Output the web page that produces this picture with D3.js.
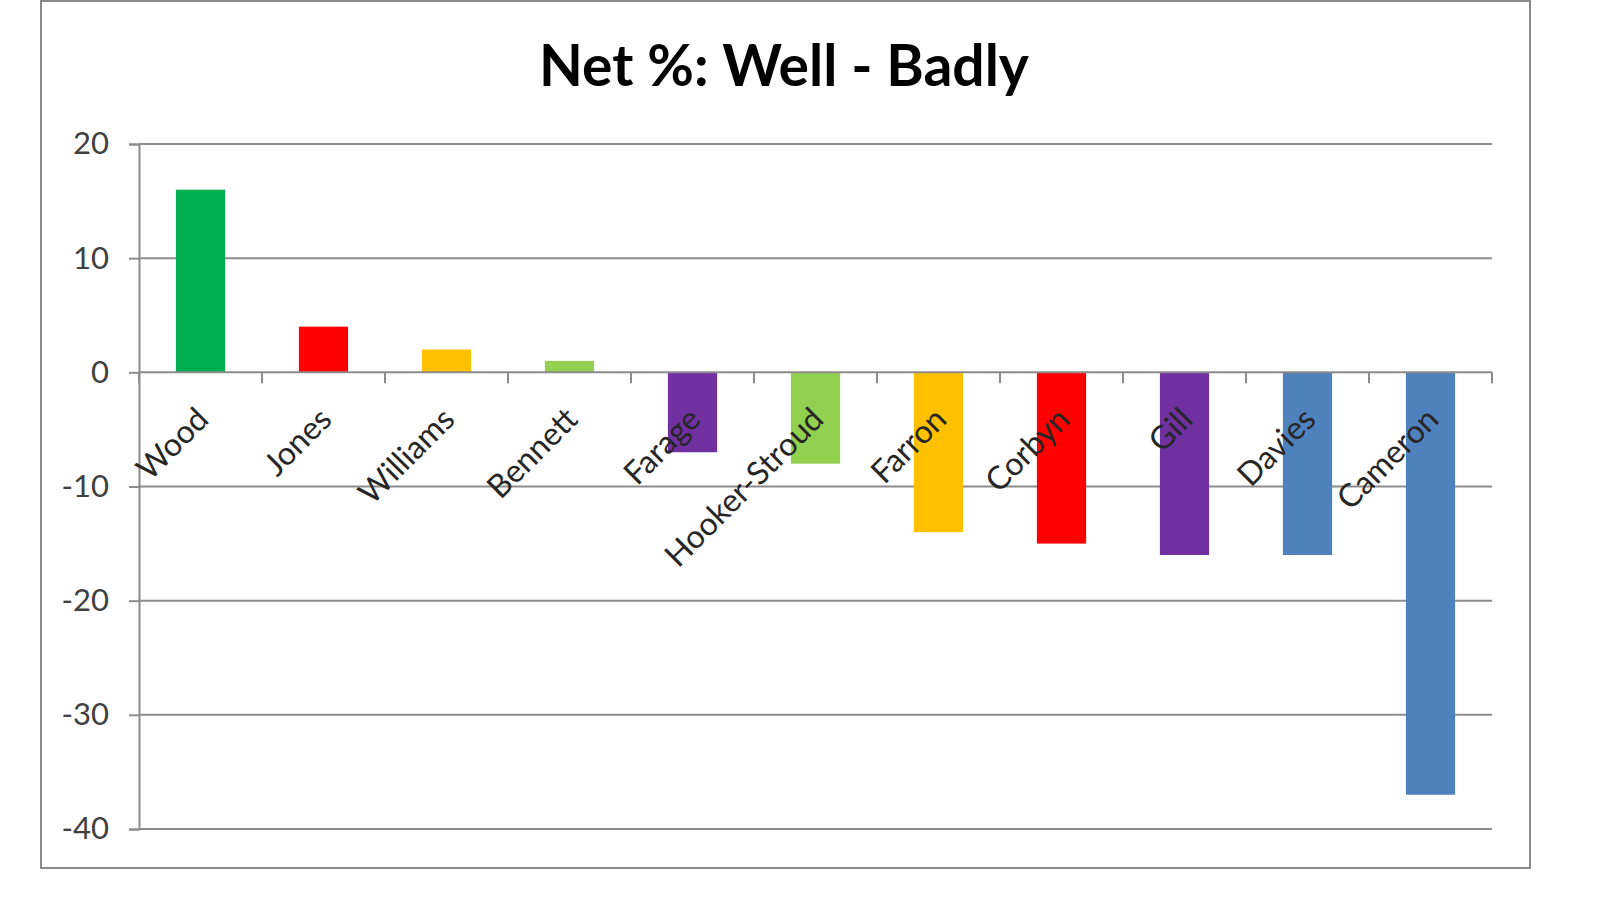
<!DOCTYPE html>
<html>
<head>
<meta charset="utf-8">
<script src="https://cdn.jsdelivr.net/npm/d3@7/dist/d3.min.js"></script>
<style>
  html, body { margin: 0; padding: 0; background: #fff; }
  svg { display: block; }
  text { font-family: "Lato", "Open Sans", "DejaVu Sans", sans-serif; }
</style>
</head>
<body>
<svg id="chart" width="1600" height="898"></svg>
<script>
const title = "Net %: Well - Badly";
const categories = ["Wood","Jones","Williams","Bennett","Farage","Hooker-Stroud","Farron","Corbyn","Gill","Davies","Cameron"];
const values = [16, 4, 2, 1, -7, -8, -14, -15, -16, -16, -37];
const barColors = ["#00B050","#FF0000","#FFC000","#92D050","#7030A0","#92D050","#FFC000","#FF0000","#7030A0","#4F81BD","#4F81BD"];
const yTicks = [20, 10, 0, -10, -20, -30, -40];

const svg = d3.select("#chart");
const plot = { left: 139, right: 1492, top: 144, bottom: 829 };
const gridColor = "#8c8c8c";

// chart border
svg.append("rect")
  .attr("x", 41).attr("y", 1).attr("width", 1530 - 41).attr("height", 868 - 1)
  .attr("fill", "#fff").attr("stroke", "#8a8a8a").attr("stroke-width", 2);

const x = d3.scaleBand().domain(categories).range([plot.left, plot.right])
  .paddingInner(0.6).paddingOuter(0.3);
const y = d3.scaleLinear().domain([-40, 20]).range([plot.bottom, plot.top]);

// y axis
const yAxis = d3.axisLeft(y).tickValues(yTicks).tickSize(10).tickPadding(20)
  .tickFormat(d => String(d));
const gy = svg.append("g").attr("transform", `translate(${plot.left},0)`).call(yAxis);
gy.select(".domain").attr("stroke", gridColor).attr("stroke-width", 2);
gy.selectAll(".tick line").attr("stroke", gridColor).attr("stroke-width", 2);
gy.selectAll(".tick text").attr("fill", "#404040").attr("font-size", 31).attr("font-family", "Lato, sans-serif");

// gridlines
const grid = svg.append("g");
grid.selectAll("line").data(yTicks.filter(d => d !== 0)).join("line")
  .attr("x1", plot.left).attr("x2", plot.right)
  .attr("y1", d => y(d)).attr("y2", d => y(d))
  .attr("stroke", gridColor).attr("stroke-width", 2);

// bars
svg.append("g").selectAll("rect").data(categories).join("rect")
  .attr("x", d => x(d))
  .attr("width", x.bandwidth())
  .attr("y", (d, i) => y(Math.max(0, values[i])))
  .attr("height", (d, i) => Math.abs(y(values[i]) - y(0)))
  .attr("fill", (d, i) => barColors[i]);

// category axis at zero
const step = x.step();
const boundaries = d3.range(categories.length + 1).map(i => plot.left + i * step);
const gx = svg.append("g");
gx.append("line").attr("x1", plot.left).attr("x2", plot.right)
  .attr("y1", y(0)).attr("y2", y(0)).attr("stroke", gridColor).attr("stroke-width", 2);
gx.selectAll("line.tk").data(boundaries).join("line").attr("class", "tk")
  .attr("x1", d => d).attr("x2", d => d)
  .attr("y1", y(0)).attr("y2", y(0) + 11)
  .attr("stroke", gridColor).attr("stroke-width", 2);

// category labels rotated -45
gx.selectAll("text").data(categories).join("text")
  .attr("transform", d => `translate(${x(d) + x.bandwidth() / 2 + 10},${y(0) + 49}) rotate(-45)`)
  .attr("text-anchor", "end")
  .attr("font-size", 32)
  .attr("fill", "#262626")
  .text(d => d);

// title
svg.append("text")
  .attr("x", 784).attr("y", 86)
  .attr("text-anchor", "middle")
  .attr("font-size", 57).attr("font-weight", "bold")
  .attr("fill", "#000")
  .text(title);
</script>
</body>
</html>
